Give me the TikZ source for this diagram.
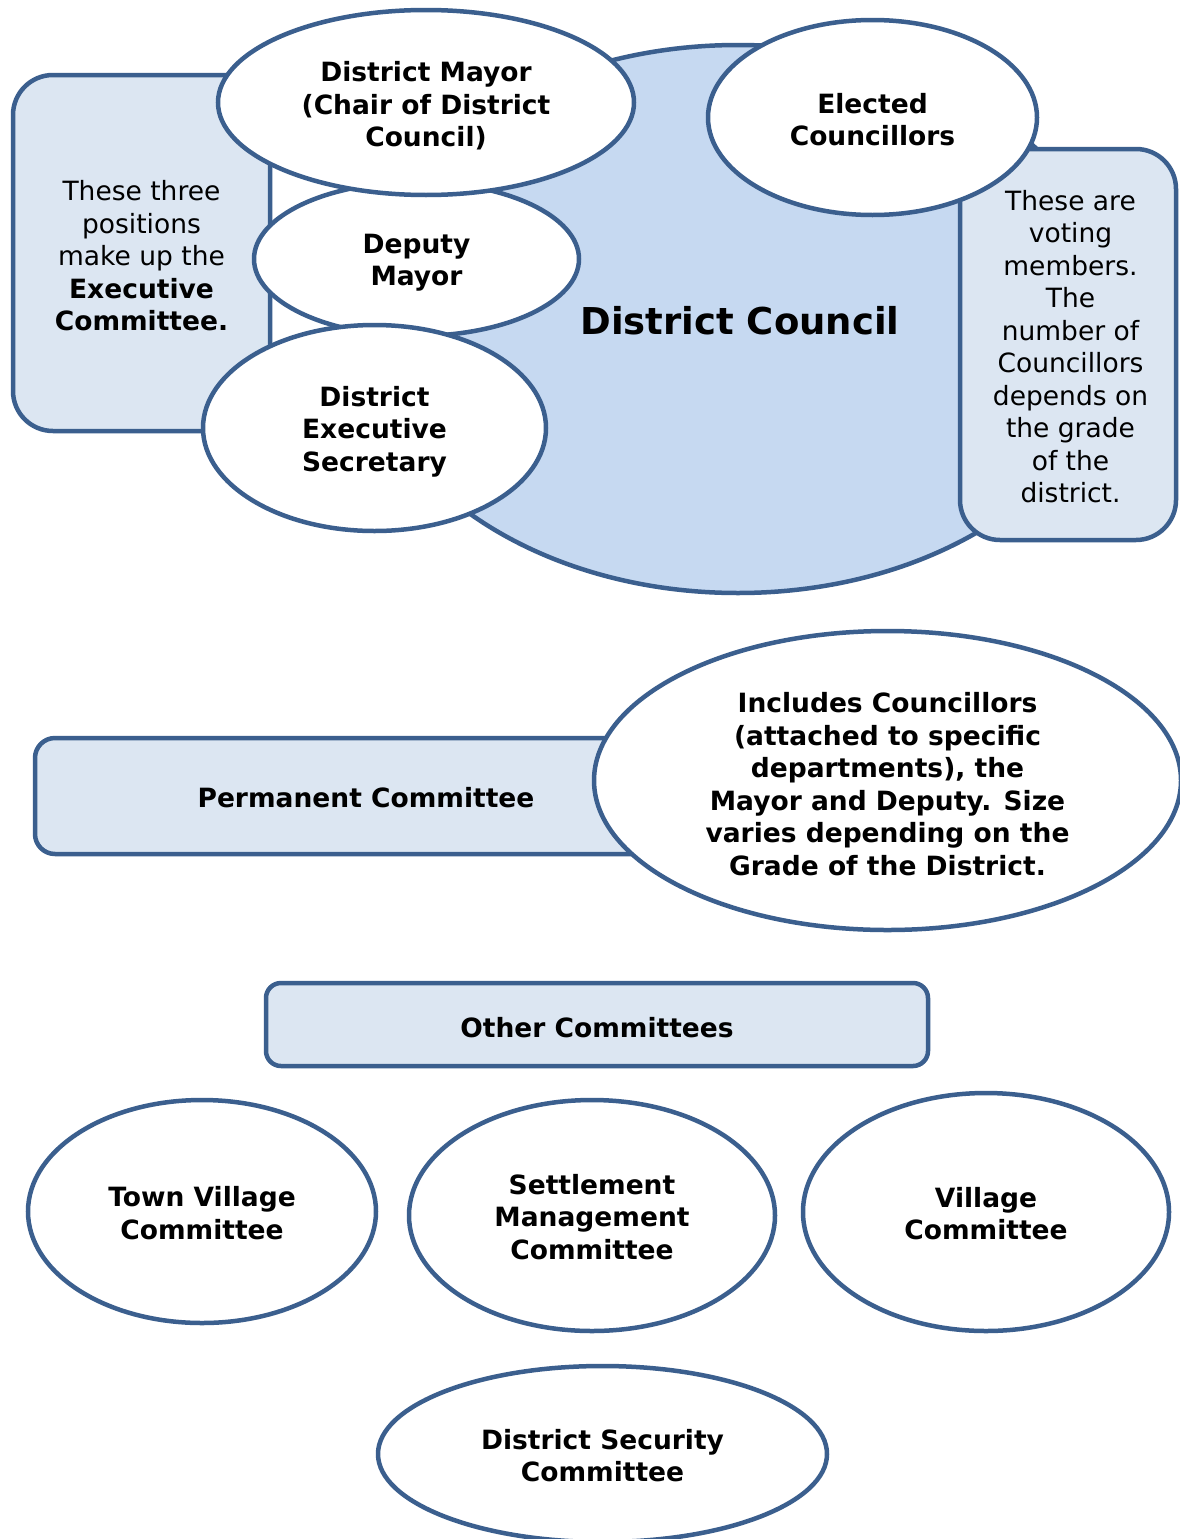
\documentclass[tikz,border=0pt]{standalone}
\usepackage{fontspec}
\setmainfont{DejaVu Sans}
\usetikzlibrary{shapes.geometric}
\definecolor{edgeblue}{HTML}{3B5F8E}
\definecolor{darkfill}{HTML}{C6D9F1}
\definecolor{lightfill}{HTML}{DCE6F2}
\tikzset{
  shape base/.style={draw=edgeblue, line width=4.5pt, inner sep=0pt},
  oval/.style={shape base, ellipse, fill=white},
  notebox/.style={shape base, rectangle, rounded corners=40pt, fill=lightfill},
  headbox/.style={shape base, rectangle, fill=lightfill},
  boldtext/.style={align=center, inner sep=0pt, text=black,
    font=\fontsize{26.5}{32.5}\selectfont\bfseries},
  plaintext/.style={align=center, inner sep=0pt, text=black,
    font=\fontsize{26.5}{32.5}\selectfont},
}
\begin{document}
\begin{tikzpicture}[x=1pt,y=-1pt]
\useasboundingbox[fill=white] (0,0) rectangle (1180,1539);
% left note
\node[notebox, minimum width=257pt, minimum height=356pt] (left) at (141.5,253) {};
\node[plaintext] (leftT) at (141.5,256)
  {These three\\positions\\make up the\\\textbf{Executive}\\\textbf{Committee.}};
% big council ellipse
\node[shape base, ellipse, fill=darkfill, minimum width=762pt, minimum height=548pt] (council) at (738,319) {};
\node[font=\fontsize{37}{44}\selectfont\bfseries, inner sep=0pt] (councilT) at (740,321) {District Council};
% right note
\node[notebox, minimum width=216pt, minimum height=391pt] (right) at (1068,344.5) {};
\node[plaintext] (rightT) at (1070.5,346.5)
  {These are\\voting\\members.\\The\\number of\\Councillors\\depends on\\the grade\\of the\\district.};
% positions
\node[oval, minimum width=325pt, minimum height=154pt] (deputy) at (416.5,259) {};
\node[boldtext] (deputyT) at (416.5,262.5) {Deputy\\Mayor};
\node[oval, minimum width=416pt, minimum height=185pt] (mayor) at (426,102.5) {};
\node[boldtext] (mayorT) at (426,106) {District Mayor\\(Chair of District\\Council)};
\node[oval, minimum width=343pt, minimum height=206pt] (secretary) at (374.5,428) {};
\node[boldtext] (secretaryT) at (374.5,431.5) {District\\Executive\\Secretary};
\node[oval, minimum width=329pt, minimum height=195pt] (elected) at (872.5,117.5) {};
\node[boldtext] (electedT) at (872.5,119.5) {Elected\\Councillors};
% permanent committee
\node[headbox, rounded corners=20pt, minimum width=662pt, minimum height=116pt] (perm) at (366,796) {};
\node[boldtext] (permT) at (366,797.5) {Permanent Committee};
\node[oval, minimum width=587pt, minimum height=299pt] (includes) at (887.5,780.5) {};
\node[boldtext] (includesT) at (887.5,784)
  {Includes Councillors\\(attached to specific\\departments), the\\Mayor and Deputy. Size\\varies depending on the\\Grade of the District.};
% other committees
\node[headbox, rounded corners=15pt, minimum width=662pt, minimum height=83pt] (other) at (597,1024.5) {};
\node[boldtext] (otherT) at (597,1027.5) {Other Committees};
\node[oval, minimum width=348pt, minimum height=223pt] (town) at (202,1211.5) {};
\node[boldtext] (townT) at (202,1213) {Town Village\\Committee};
\node[oval, minimum width=366pt, minimum height=231pt] (settle) at (592,1215.5) {};
\node[boldtext] (settleT) at (592,1217) {Settlement\\Management\\Committee};
\node[oval, minimum width=366pt, minimum height=238pt] (village) at (986,1212) {};
\node[boldtext] (villageT) at (986,1213.5) {Village\\Committee};
\node[oval, minimum width=449pt, minimum height=176pt] (security) at (602.5,1454) {};
\node[boldtext] (securityT) at (602.5,1455.5) {District Security\\Committee};
\end{tikzpicture}
\end{document}
